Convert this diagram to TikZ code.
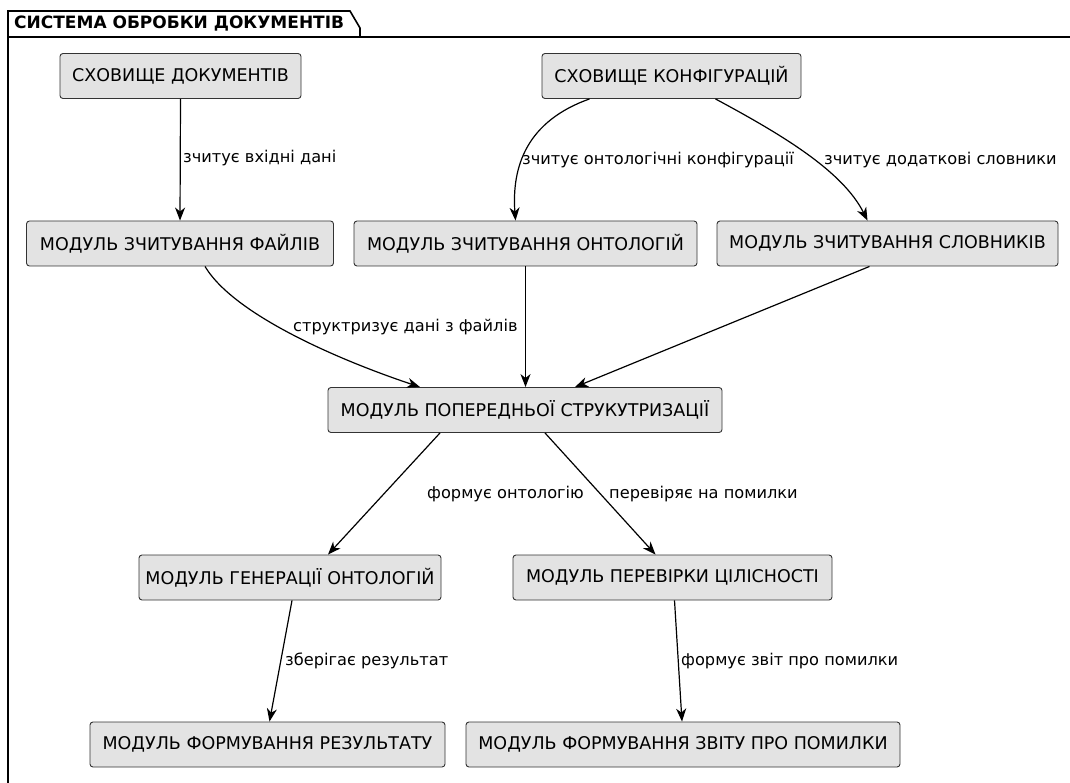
\documentclass[tikz,border=0pt]{standalone}
\usepackage{fontspec}
\setmainfont{DejaVu Sans}
\usetikzlibrary{arrows.meta}
\tikzset{
 box/.style={draw=black!80, fill=black!11, rounded corners=3pt, line width=0.9pt, minimum height=45, inner xsep=0, font=\fontsize{17.5}{20}\selectfont, anchor=center},
 conn/.style={-{Stealth[length=13,width=10,inset=4]}, line width=1.2pt},
 lbl/.style={font=\fontsize{16.2}{19}\selectfont, inner sep=0, anchor=west},
 frameline/.style={line width=1.6pt}
}
\begin{document}
\begin{tikzpicture}[x=1pt,y=-1pt]
\useasboundingbox[fill=white] (0,0) rectangle (1070,783);
% frame
\draw[frameline] (8,783) -- (8,11) -- (350,11) -- (360,28) -- (360,37);
\draw[frameline] (8,37) -- (1070,37);
\node[font=\fontsize{17}{20}\selectfont\bfseries, inner sep=0, anchor=west] (title) at (14,24) {СИСТЕМА ОБРОБКИ ДОКУМЕНТІВ};
% nodes
\node[box, minimum width=241] (docs) at (180.5,76) {СХОВИЩЕ ДОКУМЕНТІВ};
\node[box, minimum width=259] (conf) at (671.5,76) {СХОВИЩЕ КОНФІГУРАЦІЙ};
\node[box, minimum width=307] (files) at (180,243.5) {МОДУЛЬ ЗЧИТУВАННЯ ФАЙЛІВ};
\node[box, minimum width=343] (onto) at (525.5,243.5) {МОДУЛЬ ЗЧИТУВАННЯ ОНТОЛОГІЙ};
\node[box, minimum width=341] (dict) at (887.5,243.5) {МОДУЛЬ ЗЧИТУВАННЯ СЛОВНИКІВ};
\node[box, minimum width=394] (prep) at (525,410) {МОДУЛЬ ПОПЕРЕДНЬОЇ СТРУКУТРИЗАЦІЇ};
\node[box, minimum width=302] (gen) at (290,577.5) {МОДУЛЬ ГЕНЕРАЦІЇ ОНТОЛОГІЙ};
\node[box, minimum width=319] (check) at (672.5,577.5) {МОДУЛЬ ПЕРЕВІРКИ ЦІЛІСНОСТІ};
\node[box, minimum width=355] (res) at (267.5,744.5) {МОДУЛЬ ФОРМУВАННЯ РЕЗУЛЬТАТУ};
\node[box, minimum width=434] (rep) at (683,744.5) {МОДУЛЬ ФОРМУВАННЯ ЗВІТУ ПРО ПОМИЛКИ};
% connectors
\draw[conn] (docs.south) -- (files.north);
\draw[conn] ([xshift=-82]conf.south) .. controls +(-62,22) and +(-4,-55) .. ([xshift=-10]onto.north);
\draw[conn] ([xshift=44]conf.south) .. controls +(65,35) and +(-25,-50) .. ([xshift=-20]dict.north);
\draw[conn] ([xshift=25]files.south) .. controls +(30,50) and +(-75,-25) .. ([xshift=-105]prep.north);
\draw[conn] (onto.south) -- ([xshift=0.5]prep.north);
\draw[conn] ([xshift=-18]dict.south) -- ([xshift=50]prep.north);
\draw[conn] ([xshift=-85]prep.south) -- ([xshift=38]gen.north);
\draw[conn] ([xshift=20]prep.south) -- ([xshift=-17]check.north);
\draw[conn] ([xshift=2]gen.south) -- ([xshift=2]res.north);
\draw[conn] ([xshift=2]check.south) -- ([xshift=-1]rep.north);
% labels
\node[lbl] (l1) at (183,158) {зчитує вхідні дані};
\node[lbl] (l2) at (522,160) {зчитує онтологічні конфігурації};
\node[lbl] (l3) at (824,160) {зчитує додаткові словники};
\node[lbl] (l4) at (293,327) {структризує дані з файлів};
\node[lbl] (l5) at (427,494) {формує онтологію};
\node[lbl] (l6) at (609,494) {перевіряє на помилки};
\node[lbl] (l7) at (285,661) {зберігає результат};
\node[lbl] (l8) at (681,661) {формує звіт про помилки};
\end{tikzpicture}
\end{document}
